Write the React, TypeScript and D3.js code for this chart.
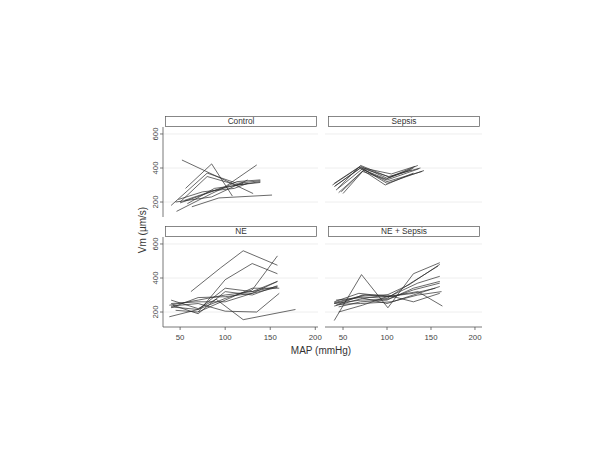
import React from "react";
import * as d3 from "d3";

// panels, in order: top-left, top-right, bottom-left, bottom-right
const panelNames = ["Control", "Sepsis", "NE", "NE + Sepsis"];
const xTicks = [50, 100, 150, 200];
const yTicks = [200, 400, 600];

// each subject: [MAP (mmHg), Vm (µm/s)]
const controlData: number[][][] = [
  [[52, 447], [95, 340], [131, 250]],
  [[56, 280], [85, 424], [108, 235]],
  [[40, 180], [80, 370], [113, 310], [139, 325]],
  [[50, 200], [80, 350], [113, 300], [139, 315]],
  [[46, 145], [85, 250], [113, 320], [139, 330]],
  [[63, 172], [93, 224], [152, 241]],
  [[55, 210], [100, 290], [135, 418]],
  [[50, 195], [90, 270], [120, 310]],
  [[45, 200], [85, 230], [125, 330]],
  [[58, 190], [88, 280], [115, 300], [139, 320]],
  [[48, 215], [75, 260], [110, 280], [125, 310]],
];

const sepsisData: number[][][] = [
  [[38, 300], [70, 410], [100, 340], [135, 415]],
  [[40, 290], [70, 400], [102, 350], [138, 400]],
  [[42, 270], [72, 395], [100, 320], [140, 380]],
  [[45, 255], [73, 385], [98, 300], [130, 370]],
  [[40, 310], [68, 405], [105, 365], [132, 410]],
  [[48, 260], [72, 380], [100, 330], [136, 395]],
  [[44, 280], [70, 415], [103, 345], [128, 390]],
  [[50, 250], [74, 390], [100, 310], [142, 385]],
  [[41, 295], [69, 398], [99, 335], [130, 400]],
];

const neData: number[][][] = [
  [[62, 320], [95, 460], [120, 560], [158, 475]],
  [[70, 200], [100, 390], [130, 485], [158, 425]],
  [[40, 230], [70, 215], [100, 280], [130, 330], [158, 530]],
  [[40, 270], [70, 220], [90, 275], [120, 155], [178, 215]],
  [[40, 235], [70, 250], [100, 205], [135, 200], [160, 310]],
  [[38, 172], [70, 215], [100, 340], [130, 320], [158, 380]],
  [[38, 240], [70, 270], [100, 300], [130, 320], [158, 350]],
  [[40, 225], [70, 285], [100, 290], [130, 310], [158, 345]],
  [[42, 240], [70, 190], [100, 320], [130, 300], [158, 355]],
  [[40, 250], [70, 260], [100, 260], [130, 310], [158, 380]],
  [[45, 210], [70, 200], [100, 270], [130, 340], [160, 340]],
];

const neSepsisData: number[][][] = [
  [[40, 150], [71, 420], [101, 225], [130, 425], [160, 490]],
  [[40, 250], [70, 290], [100, 280], [130, 380], [158, 470]],
  [[42, 240], [72, 300], [100, 300], [125, 360], [160, 480]],
  [[40, 260], [68, 310], [102, 290], [135, 370], [160, 410]],
  [[45, 230], [70, 260], [100, 270], [130, 340], [160, 380]],
  [[40, 255], [75, 300], [100, 290], [135, 320], [163, 235]],
  [[42, 270], [70, 285], [100, 250], [130, 300], [160, 350]],
  [[45, 245], [70, 250], [105, 260], [135, 300], [162, 320]],
  [[40, 235], [72, 280], [100, 300], [130, 260], [160, 310]],
  [[40, 250], [70, 270], [100, 275], [130, 330], [160, 370]],
  [[45, 200], [72, 240], [100, 290], [130, 310], [155, 340]],
];

const panelData = [controlData, sepsisData, neData, neSepsisData];

const font = "Liberation Sans, Arial, sans-serif";

export default function App() {
  const W = 600,
    H = 450;
  // column x ranges and row y ranges (pixels)
  const cols = [
    { x0: 163, x1: 318, d0: 31, d1: 203 },
    { x0: 325, x1: 482, d0: 29.5, d1: 208 },
  ];
  const rows = [
    { top: 127, bottom: 217 },
    { top: 237, bottom: 327 },
  ];
  const yDomain = [112, 641];

  const panels = panelNames.map((name, i) => {
    const c = cols[i % 2];
    const r = rows[Math.floor(i / 2)];
    const x = d3.scaleLinear().domain([c.d0, c.d1]).range([c.x0, c.x1]);
    const y = d3.scaleLinear().domain(yDomain).range([r.bottom, r.top]);
    const line = d3
      .line<number[]>()
      .x((d) => x(d[0]))
      .y((d) => y(d[1]));
    const isLeft = i % 2 === 0;
    const isBottom = i >= 2;
    return (
      <g key={name}>
        {/* grid */}
        {yTicks.map((t) => (
          <line key={t} x1={c.x0} x2={c.x1} y1={y(t)} y2={y(t)} stroke="#eaeaea" strokeWidth={0.8} />
        ))}
        {/* strip */}
        <rect
          x={isLeft ? 165.5 : 328.5}
          y={r.top - 10.5}
          width={151}
          height={10}
          fill="#fff"
          stroke="#555"
          strokeWidth={0.7}
        />
        <text
          x={isLeft ? 241 : 404}
          y={r.top - 2.6}
          textAnchor="middle"
          fontSize={8.3}
          fontFamily={font}
          fill="#333"
        >
          {name}
        </text>
        {/* y axis */}
        {isLeft && (
          <g>
            <line x1={c.x0} x2={c.x0} y1={r.top} y2={r.bottom} stroke="#555" strokeWidth={0.8} />
            {yTicks.map((t) => (
              <g key={t}>
                <line x1={c.x0 - 3} x2={c.x0} y1={y(t)} y2={y(t)} stroke="#555" strokeWidth={0.8} />
                <text
                  transform={`translate(${c.x0 - 5},${y(t)}) rotate(-90)`}
                  textAnchor="middle"
                  fontSize={7.8}
                  fontFamily={font}
                  fill="#444"
                >
                  {t}
                </text>
              </g>
            ))}
          </g>
        )}
        {/* x axis */}
        {isBottom && (
          <g>
            <line x1={c.x0} x2={c.x1} y1={r.bottom} y2={r.bottom} stroke="#555" strokeWidth={0.8} />
            {xTicks.map((t) => (
              <g key={t}>
                <line x1={x(t)} x2={x(t)} y1={r.bottom} y2={r.bottom + 3} stroke="#555" strokeWidth={0.8} />
                <text
                  x={x(t)}
                  y={r.bottom + 12.5}
                  textAnchor="middle"
                  fontSize={7.8}
                  fontFamily={font}
                  fill="#444"
                >
                  {t}
                </text>
              </g>
            ))}
          </g>
        )}
        {/* subject lines */}
        {panelData[i].map((s, k) => (
          <path key={k} d={line(s) || ""} fill="none" stroke="#2a2a2a" strokeWidth={0.7} />
        ))}
      </g>
    );
  });

  return (
    <svg width={W} height={H} style={{ position: "absolute", left: 0, top: 0, background: "#fff" }}>
      <rect width={W} height={H} fill="#fff" />
      {panels}
      <text
        transform="translate(146,230) rotate(-90)"
        textAnchor="middle"
        fontSize={10}
        fontFamily={font}
        fill="#333"
      >
        Vm (µm/s)
      </text>
      <text x={321} y={354} textAnchor="middle" fontSize={10} fontFamily={font} fill="#333">
        MAP (mmHg)
      </text>
    </svg>
  );
}
